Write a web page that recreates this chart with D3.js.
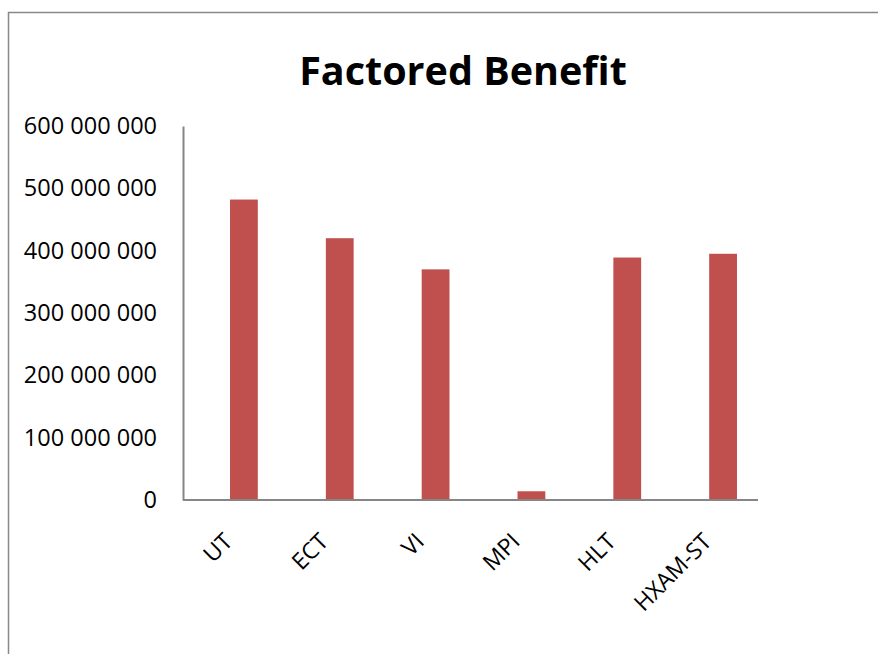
<!DOCTYPE html>
<html>
<head>
<meta charset="utf-8">
<script src="https://cdn.jsdelivr.net/npm/d3@7"></script>
<style>
  body { margin: 0; background: #fff; }
  text { font-family: "Open Sans", sans-serif; fill: #000; }
</style>
</head>
<body>
<svg id="chart" width="878" height="654"></svg>
<script>
// Chart data
const categories = ["UT", "ECT", "VI", "MPI", "HLT", "HXAM-ST"];
const benefit = [482000000, 420000000, 370000000, 14000000, 389000000, 395000000];
const yTicks = [0, 100000000, 200000000, 300000000, 400000000, 500000000, 600000000];

const svg = d3.select("#chart");

// Outer frame (only left and top edges show in the window)
svg.append("path")
    .attr("d", "M8.5,654 V12.5 H878")
    .attr("fill", "none")
    .attr("stroke", "#888")
    .attr("stroke-width", 1.5);

// Plot area
const plot = { left: 183, right: 758, top: 126, bottom: 500 };

const x = d3.scaleBand()
    .domain(categories)
    .range([196, 771])
    .paddingInner(0.71)
    .paddingOuter(0.355);

const y = d3.scaleLinear()
    .domain([0, 600000000])
    .range([plot.bottom, plot.top]);

const fmt = v => d3.format(",")(v).replace(/,/g, " ");

// Title
svg.append("text")
    .attr("x", 463)
    .attr("y", 85)
    .attr("text-anchor", "middle")
    .style("font-size", "39.5px")
    .style("font-weight", "bold")
    .text("Factored Benefit");

// Bars
svg.selectAll(".bar")
    .data(categories)
  .join("rect")
    .attr("class", "bar")
    .attr("x", d => x(d))
    .attr("width", x.bandwidth())
    .attr("y", (d, i) => y(benefit[i]))
    .attr("height", (d, i) => y(0) - y(benefit[i]))
    .attr("fill", "#C0504D");

// Y axis
const yAxis = d3.axisLeft(y)
    .tickValues(yTicks)
    .tickFormat(fmt)
    .tickSize(0)
    .tickPadding(26);

const yG = svg.append("g")
    .attr("transform", `translate(${plot.left},0)`)
    .call(yAxis);
yG.select(".domain").attr("stroke", "#868686").attr("stroke-width", 2);
yG.selectAll("text")
    .style("font-size", "23.5px")
    .style("font-family", "'Open Sans', sans-serif");

// X axis line
svg.append("line")
    .attr("x1", plot.left)
    .attr("x2", plot.right)
    .attr("y1", plot.bottom)
    .attr("y2", plot.bottom)
    .attr("stroke", "#868686")
    .attr("stroke-width", 2);

// Category labels, rotated
svg.selectAll(".xlab")
    .data(categories)
  .join("text")
    .attr("class", "xlab")
    .attr("text-anchor", "end")
    .attr("transform", d => `translate(${x(d) + x.bandwidth() / 2 - 10},${plot.bottom + 43}) rotate(-45)`)
    .style("font-size", "23px")
    .text(d => d);
</script>
</body>
</html>
